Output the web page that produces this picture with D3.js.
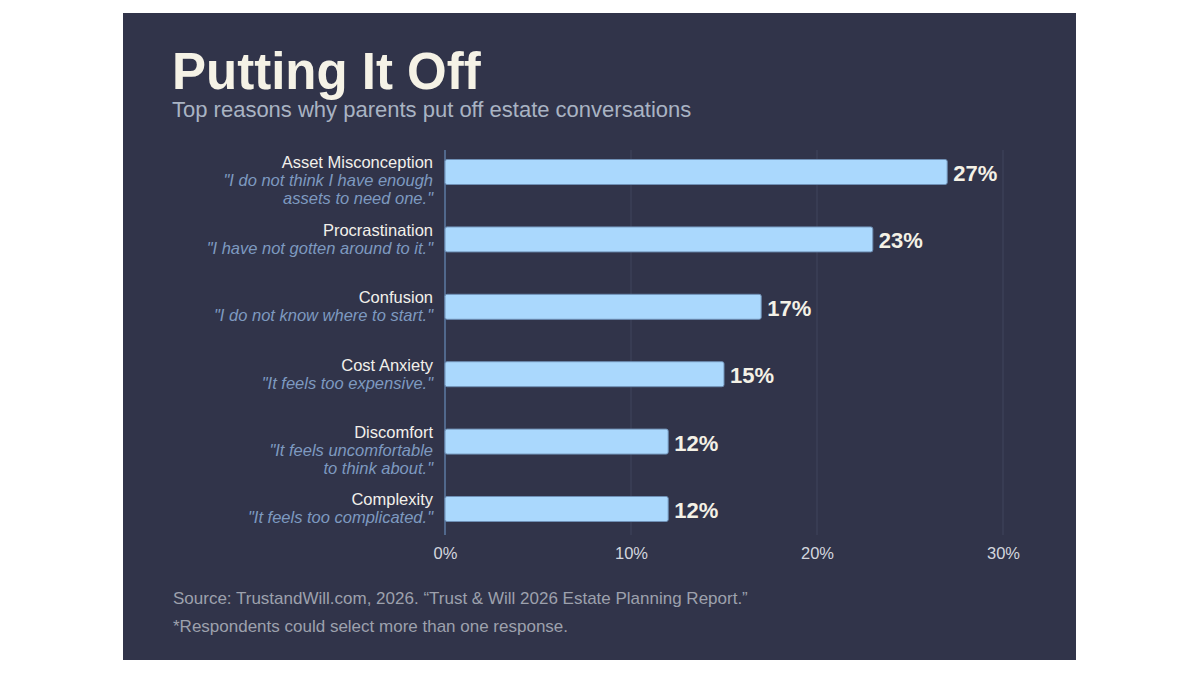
<!DOCTYPE html>
<html>
<head>
<meta charset="utf-8">
<script src="https://cdn.jsdelivr.net/npm/d3@7"></script>
<style>
  html, body { margin: 0; padding: 0; background: #ffffff; }
  svg { display: block; }
  text { font-family: "Liberation Sans", Arial, Helvetica, sans-serif; }
</style>
</head>
<body>
<svg id="chart" width="1200" height="675"></svg>
<script>
// ---- data ----
const categories = ["Asset Misconception", "Procrastination", "Confusion", "Cost Anxiety", "Discomfort", "Complexity"];
const quotes = [
  ["\"I do not think I have enough", "assets to need one.\""],
  ["\"I have not gotten around to it.\""],
  ["\"I do not know where to start.\""],
  ["\"It feels too expensive.\""],
  ["\"It feels uncomfortable", "to think about.\""],
  ["\"It feels too complicated.\""]
];
const values = [27, 23, 17, 15, 12, 12];
const tickValues = [0, 10, 20, 30];
const title = "Putting It Off";
const subtitle = "Top reasons why parents put off estate conversations";
const sourceNote = "Source: TrustandWill.com, 2026. \u201CTrust & Will 2026 Estate Planning Report.\u201D";
const footNote = "*Respondents could select more than one response.";

// ---- layout ----
const svg = d3.select("#chart");
const panel = { x: 123, y: 13, w: 953, h: 647 };
svg.append("rect").attr("x", panel.x).attr("y", panel.y).attr("width", panel.w).attr("height", panel.h)
  .attr("fill", "#31344a");

const x = d3.scaleLinear().domain([0, 30]).range([445, 1003]);
const y = d3.scalePoint().domain(categories).range([138.3, 542.7]).padding(0.5);
const barH = 25;
const plotTop = 150, plotBottom = 535;

// gridlines
svg.append("g").selectAll("line").data(tickValues.filter(d => d > 0)).join("line")
  .attr("x1", d => x(d)).attr("x2", d => x(d))
  .attr("y1", plotTop).attr("y2", plotBottom)
  .attr("stroke", "#40445d").attr("stroke-width", 1);

// axis (bottom) with tick labels
const axis = d3.axisBottom(x).tickValues(tickValues).tickFormat(d => d + "%").tickSize(0).tickPadding(12);
const ax = svg.append("g").attr("transform", `translate(0,${plotBottom})`).call(axis);
ax.select(".domain").remove();
ax.selectAll("text").attr("fill", "#d3d6de").style("font-size", "16.5px")
  .style("font-family", "'Liberation Sans', Arial, sans-serif");

// vertical zero line
svg.append("line").attr("x1", x(0)).attr("x2", x(0)).attr("y1", plotTop).attr("y2", plotBottom)
  .attr("stroke", "#5c7aa3").attr("stroke-width", 1.5);

// bars
svg.append("g").selectAll("rect").data(values).join("rect")
  .attr("x", x(0))
  .attr("y", (d, i) => y(categories[i]) - barH / 2)
  .attr("width", d => x(d) - x(0))
  .attr("height", barH)
  .attr("rx", 2)
  .attr("fill", "#aad8fd")
  .attr("stroke", "#6f90b6").attr("stroke-width", 1);

// value labels
svg.append("g").selectAll("text").data(values).join("text")
  .attr("x", d => x(d) + 6)
  .attr("y", (d, i) => y(categories[i]) + 1)
  .attr("dy", "0.36em")
  .attr("fill", "#f4f1e6")
  .style("font-size", "22px").style("font-weight", "bold")
  .text(d => d + "%");

// category labels
const labelX = 433;
const lab = svg.append("g").selectAll("g").data(categories).join("g")
  .attr("transform", d => `translate(${labelX},${y(d)})`);
lab.append("text").attr("text-anchor", "end").attr("y", -9.5).attr("dy", "0.36em")
  .attr("fill", "#f2f0ea").style("font-size", "16.5px").text(d => d);
lab.each(function (d, i) {
  d3.select(this).selectAll("text.q").data(quotes[i]).join("text").attr("class", "q")
    .attr("text-anchor", "end").attr("y", (q, j) => 8.5 + j * 18).attr("dy", "0.36em")
    .attr("fill", "#7e9ac0").style("font-size", "16.5px").style("font-style", "italic")
    .text(q => q);
});

// title & subtitle
svg.append("text").attr("x", 172).attr("y", 89).attr("fill", "#f5f2e6")
  .style("font-size", "51px").style("font-weight", "bold").text(title);
svg.append("text").attr("x", 172).attr("y", 117).attr("fill", "#a9b3c3")
  .style("font-size", "22px").text(subtitle);

// footer
svg.append("text").attr("x", 173).attr("y", 604).attr("fill", "#9da1ad")
  .style("font-size", "17px").text(sourceNote);
svg.append("text").attr("x", 173).attr("y", 632).attr("fill", "#9da1ad")
  .style("font-size", "17px").text(footNote);
</script>
</body>
</html>
